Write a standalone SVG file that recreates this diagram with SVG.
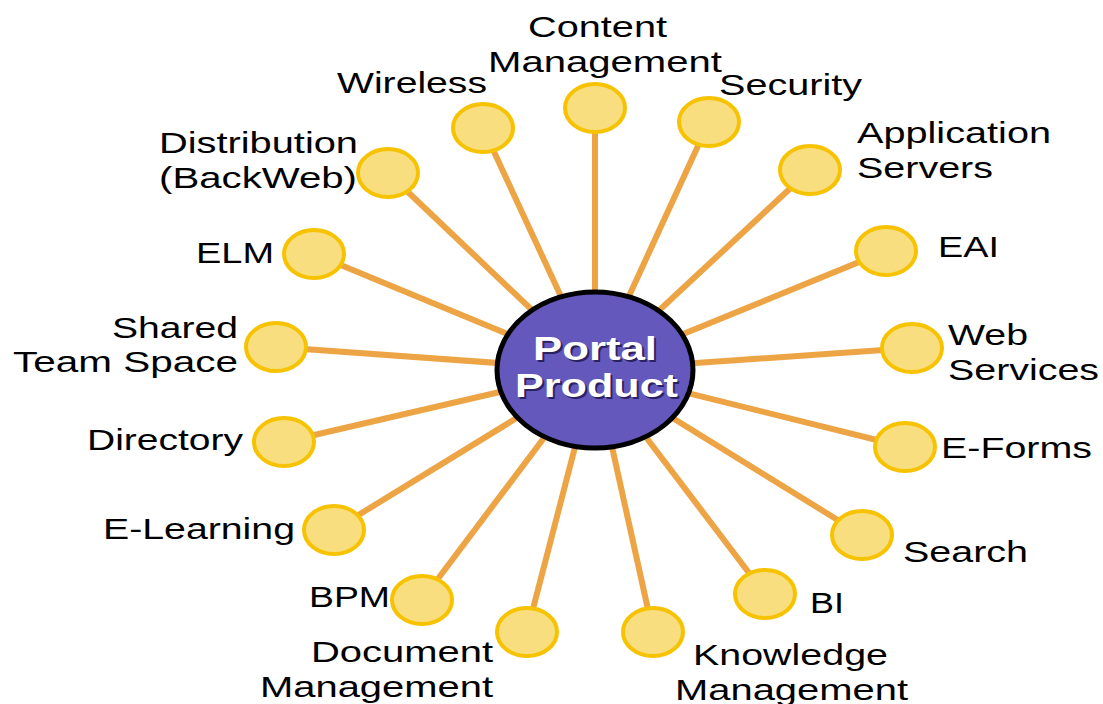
<svg xmlns="http://www.w3.org/2000/svg" width="1103" height="704" viewBox="0 0 1103 704">
<style>
.spoke{stroke:#EDA445;stroke-width:6;stroke-linecap:butt}
.node{fill:#F8DE7E;stroke:#F7C200;stroke-width:4}
.lbl{font-family:"Liberation Sans",Arial,sans-serif;font-size:29px;fill:#000}
.ctr{font-family:"Liberation Sans",Arial,sans-serif;font-size:34px;font-weight:bold}
</style>
<rect width="1103" height="704" fill="#fff"/>
<g id="connectors">
<line class="spoke" x1="595" y1="370" x2="595" y2="108"/>
<line class="spoke" x1="595" y1="370" x2="483" y2="128"/>
<line class="spoke" x1="595" y1="370" x2="709" y2="122"/>
<line class="spoke" x1="595" y1="370" x2="388" y2="173"/>
<line class="spoke" x1="595" y1="370" x2="810" y2="170"/>
<line class="spoke" x1="595" y1="370" x2="314" y2="254"/>
<line class="spoke" x1="595" y1="370" x2="886" y2="251"/>
<line class="spoke" x1="595" y1="370" x2="276" y2="347"/>
<line class="spoke" x1="595" y1="370" x2="912" y2="348"/>
<line class="spoke" x1="595" y1="370" x2="284" y2="442"/>
<line class="spoke" x1="595" y1="370" x2="905" y2="447"/>
<line class="spoke" x1="595" y1="370" x2="334" y2="530"/>
<line class="spoke" x1="595" y1="370" x2="862" y2="535"/>
<line class="spoke" x1="595" y1="370" x2="422" y2="600"/>
<line class="spoke" x1="595" y1="370" x2="765" y2="594"/>
<line class="spoke" x1="595" y1="370" x2="527" y2="632"/>
<line class="spoke" x1="595" y1="370" x2="653" y2="632"/>
</g>
<g id="center">
<ellipse cx="595" cy="370" rx="98" ry="78" fill="#6558BC" stroke="#000" stroke-width="5"/>
<text class="ctr" x="535" y="362" fill="#2a2260" textLength="124" lengthAdjust="spacingAndGlyphs">Portal</text>
<text class="ctr" x="517" y="399" fill="#2a2260" textLength="163" lengthAdjust="spacingAndGlyphs">Product</text>
<text class="ctr" x="533" y="360" fill="#fff" textLength="124" lengthAdjust="spacingAndGlyphs">Portal</text>
<text class="ctr" x="515" y="397" fill="#fff" textLength="163" lengthAdjust="spacingAndGlyphs">Product</text>
</g>
<g id="n-content"><ellipse class="node" cx="595" cy="108" rx="30" ry="24"/>
<text class="lbl" x="528" y="37" textLength="139" lengthAdjust="spacingAndGlyphs">Content</text>
<text class="lbl" x="488" y="72" textLength="234" lengthAdjust="spacingAndGlyphs">Management</text></g>
<g id="n-wireless"><ellipse class="node" cx="483" cy="128" rx="30" ry="24"/>
<text class="lbl" x="337" y="93" textLength="150" lengthAdjust="spacingAndGlyphs">Wireless</text></g>
<g id="n-security"><ellipse class="node" cx="709" cy="122" rx="30" ry="24"/>
<text class="lbl" x="719" y="95" textLength="143" lengthAdjust="spacingAndGlyphs">Security</text></g>
<g id="n-distribution"><ellipse class="node" cx="388" cy="173" rx="30" ry="24"/>
<text class="lbl" x="159" y="153" textLength="199" lengthAdjust="spacingAndGlyphs">Distribution</text>
<text class="lbl" x="159" y="188" textLength="198" lengthAdjust="spacingAndGlyphs">(BackWeb)</text></g>
<g id="n-appservers"><ellipse class="node" cx="810" cy="170" rx="30" ry="24"/>
<text class="lbl" x="857" y="143" textLength="194" lengthAdjust="spacingAndGlyphs">Application</text>
<text class="lbl" x="857" y="178" textLength="136" lengthAdjust="spacingAndGlyphs">Servers</text></g>
<g id="n-elm"><ellipse class="node" cx="314" cy="254" rx="30" ry="24"/>
<text class="lbl" x="196" y="263" textLength="78" lengthAdjust="spacingAndGlyphs">ELM</text></g>
<g id="n-eai"><ellipse class="node" cx="886" cy="251" rx="30" ry="24"/>
<text class="lbl" x="938" y="257" textLength="61" lengthAdjust="spacingAndGlyphs">EAI</text></g>
<g id="n-shared"><ellipse class="node" cx="276" cy="347" rx="30" ry="24"/>
<text class="lbl" x="112" y="338" textLength="126" lengthAdjust="spacingAndGlyphs">Shared</text>
<text class="lbl" x="13" y="372" textLength="225" lengthAdjust="spacingAndGlyphs">Team Space</text></g>
<g id="n-webservices"><ellipse class="node" cx="912" cy="348" rx="30" ry="24"/>
<text class="lbl" x="948" y="345" textLength="80" lengthAdjust="spacingAndGlyphs">Web</text>
<text class="lbl" x="948" y="380" textLength="151" lengthAdjust="spacingAndGlyphs">Services</text></g>
<g id="n-directory"><ellipse class="node" cx="284" cy="442" rx="30" ry="24"/>
<text class="lbl" x="87" y="450" textLength="156" lengthAdjust="spacingAndGlyphs">Directory</text></g>
<g id="n-eforms"><ellipse class="node" cx="905" cy="447" rx="30" ry="24"/>
<text class="lbl" x="941" y="458" textLength="151" lengthAdjust="spacingAndGlyphs">E-Forms</text></g>
<g id="n-elearning"><ellipse class="node" cx="334" cy="530" rx="30" ry="24"/>
<text class="lbl" x="103" y="539" textLength="192" lengthAdjust="spacingAndGlyphs">E-Learning</text></g>
<g id="n-search"><ellipse class="node" cx="862" cy="535" rx="30" ry="24"/>
<text class="lbl" x="903" y="562" textLength="125" lengthAdjust="spacingAndGlyphs">Search</text></g>
<g id="n-bpm"><ellipse class="node" cx="422" cy="600" rx="30" ry="24"/>
<text class="lbl" x="309" y="607" textLength="81" lengthAdjust="spacingAndGlyphs">BPM</text></g>
<g id="n-bi"><ellipse class="node" cx="765" cy="594" rx="30" ry="24"/>
<text class="lbl" x="810" y="613" textLength="34" lengthAdjust="spacingAndGlyphs">BI</text></g>
<g id="n-document"><ellipse class="node" cx="527" cy="632" rx="30" ry="24"/>
<text class="lbl" x="311" y="662" textLength="182" lengthAdjust="spacingAndGlyphs">Document</text>
<text class="lbl" x="260" y="697" textLength="233" lengthAdjust="spacingAndGlyphs">Management</text></g>
<g id="n-knowledge"><ellipse class="node" cx="653" cy="632" rx="30" ry="24"/>
<text class="lbl" x="693" y="665" textLength="195" lengthAdjust="spacingAndGlyphs">Knowledge</text>
<text class="lbl" x="675" y="700" textLength="233" lengthAdjust="spacingAndGlyphs">Management</text></g>
</svg>
